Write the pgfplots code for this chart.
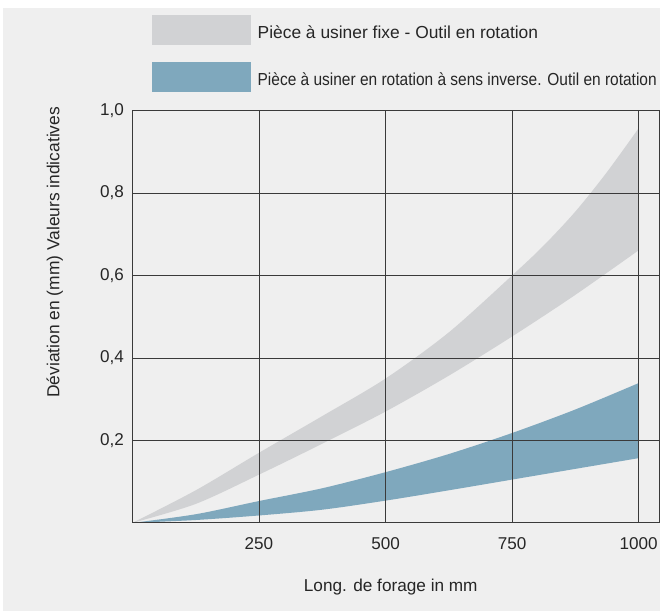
\documentclass[border=0pt]{standalone}
\usepackage{pgfplots}
\pgfplotsset{compat=1.18}
\usepgfplotslibrary{fillbetween}
\usepackage{fontspec}
\setmainfont{Liberation Sans}
\definecolor{bgc}{HTML}{EFEFEF}
\definecolor{grayband}{HTML}{D1D2D4}
\definecolor{blueband}{HTML}{7FA8BD}
\definecolor{gridc}{HTML}{3A3A3A}
\tikzset{fill between/on layer=main}
\begin{document}
\begin{tikzpicture}
\fill[white] (0,0) rectangle (661bp,612bp);
\fill[bgc] (3bp,0) rectangle (661bp,604bp);
% legend
\fill[grayband] (152bp,567bp) rectangle (252bp,597bp);
\fill[blueband] (152bp,520bp) rectangle (252bp,550bp);
\node[anchor=west, inner sep=0pt, font=\fontsize{17.5}{19}\selectfont, text=black!85] at (258bp,579.5bp) {Pièce à usiner fixe - Outil en rotation};
\node[anchor=west, inner sep=0pt, font=\fontsize{17.5}{19}\selectfont, text=black!85] at (258bp,532.5bp) {\scalebox{0.89}[1]{Pièce à usiner en rotation à sens inverse. Outil en rotation}};
\begin{axis}[
  at={(132.7bp,88bp)}, anchor=south west,
  scale only axis, width=527.8bp, height=413.3bp,
  xmin=0, xmax=1040.4, ymin=0, ymax=1.0,
  xtick={250,500,750,1000},
  ytick={0.2,0.4,0.6,0.8,1.0},
  yticklabels={{0,2},{0,4},{0,6},{0,8},{1,0}},
  major tick length=0pt,
  grid=major,
  grid style={gridc, line width=0.8bp},
  axis line style={gridc, line width=0.9bp},
  axis background/.style={fill=white},
  axis on top,
  tick label style={font=\fontsize{17.2}{19}\selectfont, text=black!85},
  yticklabel style={xshift=-5bp},
  xticklabel style={yshift=-11bp},
  /pgf/number format/assume math mode=true,
  /pgf/number format/1000 sep={},
  xlabel={Long. de forage in mm},
  xlabel style={at={(axis description cs:0.4905,0)}, anchor=center, yshift=-64bp, font=\fontsize{17.3}{19}\selectfont, text=black!85},
  ylabel={Déviation en (mm) Valeurs indicatives},
  ylabel style={at={(axis description cs:-0.1472,0.656)}, anchor=center, font=\fontsize{17.5}{19}\selectfont, text=black!85},
]
\addplot[draw=none, smooth, name path=gu] coordinates {(0,0) (125,0.079) (250,0.170) (375,0.259) (500,0.350) (625,0.462) (750,0.600) (812,0.672) (875,0.755) (937,0.850) (1000,0.957)};
\addplot[draw=none, smooth, name path=gl] coordinates {(0,0) (125,0.046) (250,0.117) (375,0.192) (500,0.270) (625,0.357) (750,0.452) (875,0.553) (1000,0.661)};
\addplot[fill=grayband, draw=none] fill between[of=gu and gl];
\addplot[draw=none, smooth, name path=bu] coordinates {(0,0) (125,0.021) (250,0.053) (375,0.084) (500,0.123) (625,0.167) (750,0.218) (875,0.275) (1000,0.339)};
\addplot[draw=none, smooth, name path=bl] coordinates {(0,0) (125,0.007) (250,0.018) (375,0.032) (500,0.054) (625,0.079) (750,0.105) (875,0.131) (1000,0.157)};
\addplot[fill=blueband, draw=none] fill between[of=bu and bl];
\end{axis}
\end{tikzpicture}
\end{document}
